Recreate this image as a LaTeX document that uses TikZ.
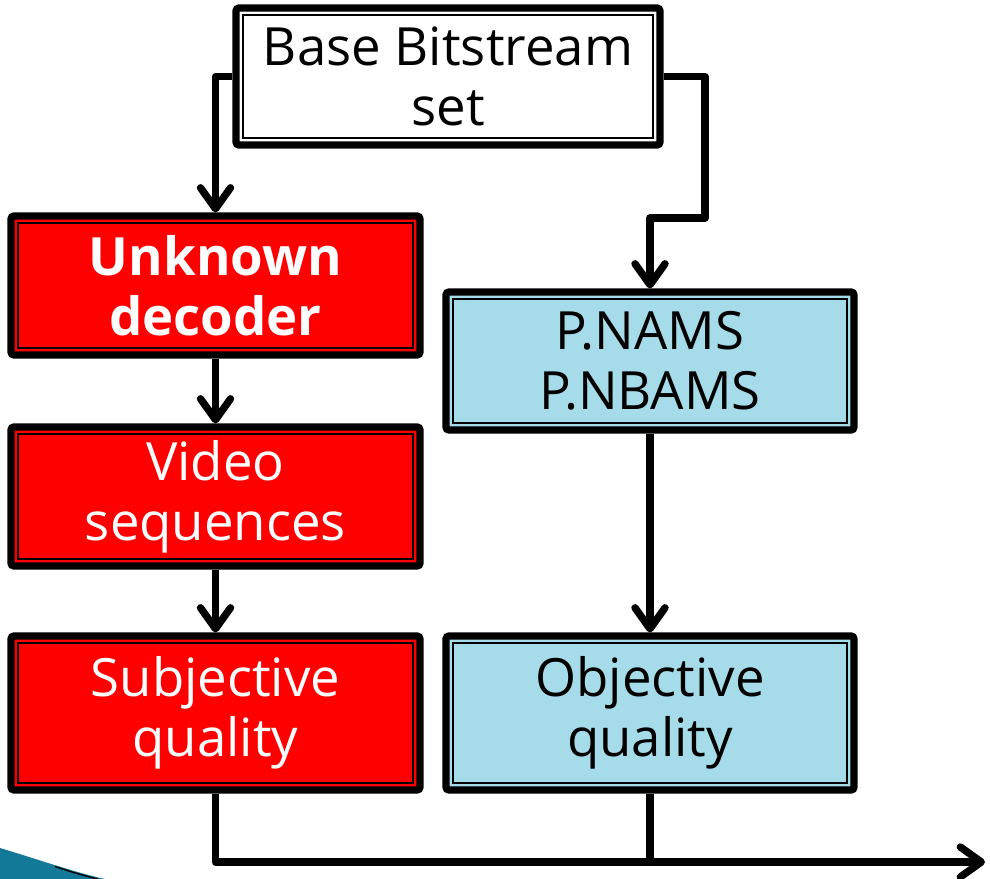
\documentclass[tikz,border=0pt]{standalone}
\usepackage{fontspec}
\setmainfont{Open Sans}
\usepackage{tikz}
\usetikzlibrary{arrows.meta, calc}

\definecolor{boxred}{RGB}{255,0,0}
\definecolor{boxblue}{RGB}{166,220,233}
\definecolor{swoosh}{RGB}{18,122,152}

\begin{document}
\begin{tikzpicture}[
  box/.style={draw, line width=4pt, rounded corners=1.5pt, align=center, inner sep=0pt,
    font=\fontsize{30}{34}\selectfont,
    path picture={\draw[line width=0.9pt, sharp corners]
      ([shift={(0.14cm,0.14cm)}]path picture bounding box.south west) rectangle
      ([shift={(-0.14cm,-0.14cm)}]path picture bounding box.north east);}},
  redbox/.style={box, fill=boxred, text=white, minimum width=8.18cm, minimum height=2.78cm},
  bluebox/.style={box, fill=boxblue, minimum width=8.16cm, minimum height=2.76cm},
  link/.style={line width=4.2pt, line join=round},
  arrow/.style={link, -{Straight Barb[length=0.42cm, width=0.6cm, round]}}
]
\useasboundingbox (0,0) rectangle (19.8,-17.58);

% corner decoration
\fill[swoosh] (0,-16.96) .. controls (0.8,-17.2) and (1.5,-17.45) .. (2.1,-17.58) -- (0,-17.58) -- cycle;
\draw[line width=0.8pt] (1.1,-17.33) .. controls (1.5,-17.46) .. (1.95,-17.58);

\node[box, fill=white, minimum width=8.48cm, minimum height=2.74cm] (base) at (8.96,-1.53) {Base Bitstream\\set};

\node[redbox, font=\fontsize{30}{34}\selectfont\bfseries] (unknown) at (4.31,-5.71) {Unknown\\decoder};
\node[redbox] (video) at (4.31,-9.93) {Video\\sequences};
\node[redbox, minimum height=3.08cm] (subj) at (4.31,-14.26) {Subjective\\quality};

\node[bluebox] (nams) at (13.0,-7.22) {P.NAMS\\P.NBAMS};
\node[bluebox, minimum height=3.08cm] (obj) at (13.0,-14.26) {Objective\\quality};

\coordinate (bend) at (14.1,-4.36);
\coordinate (out) at (19.7,-17.24);

\draw[arrow] (base.west) -| (unknown.north);
\draw[arrow] (base.east) -| (bend) -| (nams.north);
\draw[arrow] (unknown) -- (video);
\draw[arrow] (video) -- (subj);
\draw[arrow] (nams) -- (obj);
\draw[arrow] (subj.south) |- (out);
\draw[link] (obj.south) -- (obj.south |- out);

\end{tikzpicture}
\end{document}
